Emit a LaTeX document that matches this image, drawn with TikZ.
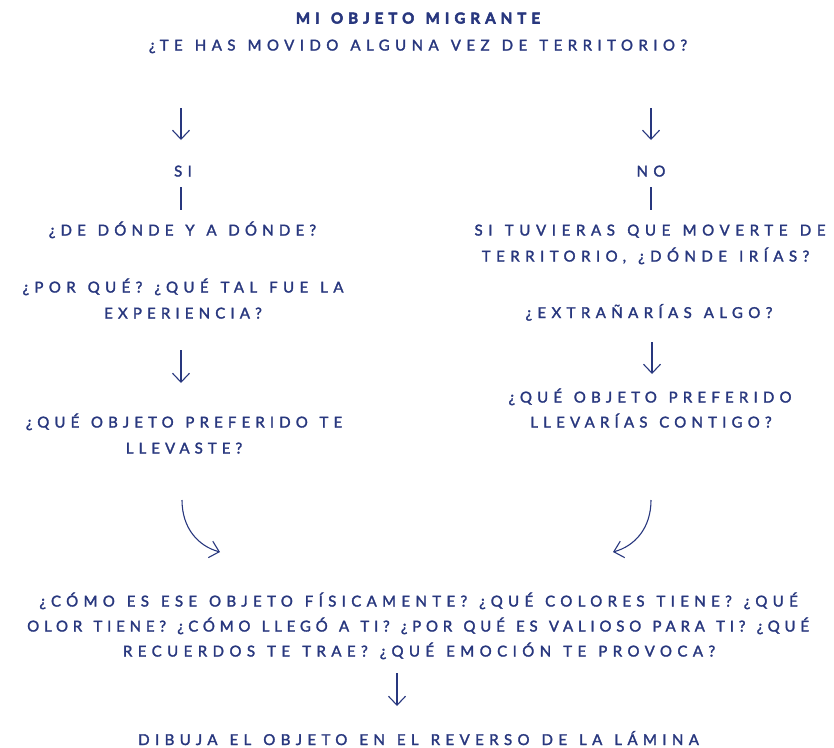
\documentclass[tikz,border=0pt]{standalone}
\usepackage{fontspec}
\setmainfont{Lato}
\newfontfamily\bodyfont[LetterSpace=36,WordSpace=1.3,FakeBold=2]{Lato}
\newfontfamily\headfont[LetterSpace=34,WordSpace=1.3,FakeBold=3.5,UprightFont=* Bold]{Lato}
\usetikzlibrary{arrows.meta}
\definecolor{ink}{HTML}{28377E}
\begin{document}
\begin{tikzpicture}[x=1pt,y=-1pt,
  txt/.style={text=ink,font=\bodyfont\fontsize{15}{18}\selectfont\addfontfeature{LetterSpace=#1},anchor=base,inner sep=0pt},
  txt/.default=36,
  ttl/.style={text=ink,anchor=base,inner sep=0pt,font=\headfont\fontsize{15}{18}\selectfont},
  conn/.style={draw=ink,line width=1.1pt},
  arr/.style={conn,-{Straight Barb[length=9pt,width=17pt,line width=1.1pt]}}]
\useasboundingbox (0,0) rectangle (834,747);
% header
\node[ttl] (title) at (418,23.5) {MI OBJETO MIGRANTE};
\node[txt=36.4] (sub) at (418,50.5) {¿TE HAS MOVIDO ALGUNA VEZ DE TERRITORIO?};
% left branch
\coordinate (la0) at (181,108); \coordinate (la1) at (181,140);
\draw[arr] (la0) -- (la1);
\node[txt] (si) at (183,176.5) {SI};
\coordinate (ls0) at (181,187); \coordinate (ls1) at (181,210);
\draw[conn] (ls0) -- (ls1);
\node[txt=34.8] (l1) at (182.5,235.5) {¿DE DÓNDE Y A DÓNDE?};
\node[txt=36.1] (l2) at (183,292.5) {¿POR QUÉ? ¿QUÉ TAL FUE LA};
\node[txt=34.4] (l3) at (183,318.5) {EXPERIENCIA?};
\coordinate (lb0) at (181,350); \coordinate (lb1) at (181,383);
\draw[arr] (lb0) -- (lb1);
\node[txt=34.3] (l4) at (184,427.5) {¿QUÉ OBJETO PREFERIDO TE};
\node[txt=33.7] (l5) at (184,453.5) {LLEVASTE?};
\coordinate (lc0) at (182,500); \coordinate (lc1) at (220,552);
\draw[arr] (lc0) .. controls (182,528) and (198,546) .. (lc1);
% right branch
\coordinate (ra0) at (651,108); \coordinate (ra1) at (651,140);
\draw[arr] (ra0) -- (ra1);
\node[txt] (no) at (651,176.5) {NO};
\coordinate (rs0) at (651,187); \coordinate (rs1) at (651,210);
\draw[conn] (rs0) -- (rs1);
\node[txt=37.6] (r1) at (650,235.5) {SI TUVIERAS QUE MOVERTE DE};
\node[txt=36.5] (r2) at (645.5,261.5) {TERRITORIO, ¿DÓNDE IRÍAS?};
\node[txt=36] (r3) at (649,318) {¿EXTRAÑARÍAS ALGO?};
\coordinate (rb0) at (652,342); \coordinate (rb1) at (652,374);
\draw[arr] (rb0) -- (rb1);
\node[txt=34.7] (r4) at (650,402.5) {¿QUÉ OBJETO PREFERIDO};
\node[txt=34.7] (r5) at (651,427.5) {LLEVARÍAS CONTIGO?};
\coordinate (rc0) at (651,500); \coordinate (rc1) at (613,552);
\draw[arr] (rc0) .. controls (651,528) and (635,546) .. (rc1);
% bottom
\node[txt=35.7] (b1) at (418.5,606.5) {¿CÓMO ES ESE OBJETO FÍSICAMENTE? ¿QUÉ COLORES TIENE? ¿QUÉ};
\node[txt=32] (b2) at (418,631.5) {OLOR TIENE? ¿CÓMO LLEGÓ A TI? ¿POR QUÉ ES VALIOSO PARA TI? ¿QUÉ};
\node[txt=36.3] (b3) at (419,656.5) {RECUERDOS TE TRAE? ¿QUÉ EMOCIÓN TE PROVOCA?};
\coordinate (ba0) at (397,673); \coordinate (ba1) at (397,706);
\draw[arr] (ba0) -- (ba1);
\node[txt=36] (fin) at (418.5,745) {DIBUJA EL OBJETO EN EL REVERSO DE LA LÁMINA};
\end{tikzpicture}
\end{document}
